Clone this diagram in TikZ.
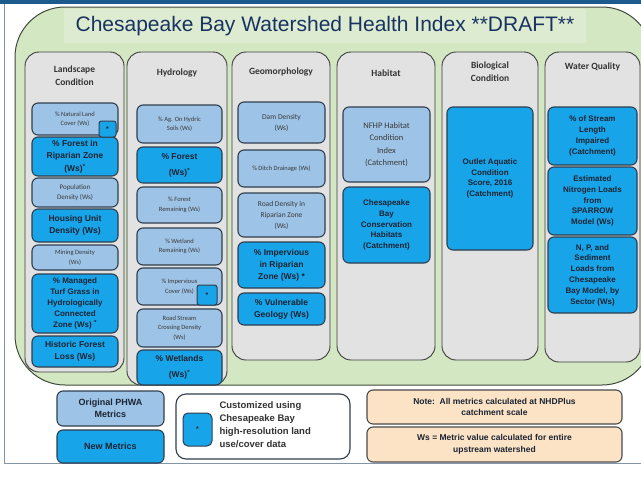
\documentclass[tikz,border=0pt]{standalone}
\usepackage{fontspec}
\setmainfont{Liberation Sans}
\newfontfamily\calfont{Carlito}
\usepackage{tikz}
\usepackage{xcolor}
\definecolor{topbar}{HTML}{1D5A8E}
\definecolor{framegray}{HTML}{8494A8}
\definecolor{greenbg}{HTML}{D4E7C3}
\definecolor{greenline}{HTML}{3E4A3A}
\definecolor{titlebg}{HTML}{DDECD0}
\definecolor{titleblue}{HTML}{1A3262}
\definecolor{colbg}{HTML}{E2E2E2}
\definecolor{colline}{HTML}{3C3C3C}
\definecolor{coltext}{HTML}{333333}
\definecolor{origbg}{HTML}{9DC3E6}
\definecolor{newbg}{HTML}{18A4E8}
\definecolor{boxline}{HTML}{2F3E4E}
\definecolor{smalltext}{HTML}{3A3A3A}
\definecolor{boldtext}{HTML}{1B2433}
\definecolor{notebg}{HTML}{FCE3C5}
\definecolor{noteline}{HTML}{4A4A4A}

\begin{document}
\begin{tikzpicture}[x=1pt,y=-1pt,
  col/.style={draw=colline, fill=colbg, line width=0.9pt, rounded corners=14pt},
  coltitle/.style={font=\calfont\bfseries\fontsize{9.5}{13}\selectfont, text=coltext, align=center},
  orig/.style={draw=boxline, fill=origbg, line width=1.1pt, rounded corners=6pt, inner sep=1pt,
    align=center, text=smalltext},
  newm/.style={draw=boxline, fill=newbg, line width=1.1pt, rounded corners=6pt, inner sep=1pt,
    align=center, text=boldtext},
  starbox/.style={draw=boxline, fill=newbg, line width=1pt, rounded corners=2.5pt, inner sep=0pt,
    text=boldtext, font=\bfseries\fontsize{7}{7}\selectfont},
  notebox/.style={draw=noteline, fill=notebg, line width=1.1pt, rounded corners=6pt, inner sep=1pt,
    align=center, text=boldtext, font=\bfseries\fontsize{8.5}{11.5}\selectfont}]
  \useasboundingbox[fill=white] (0,0) rectangle (641,491);
  % frame of the slide
  \fill[topbar] (0,0) rectangle (641,4);
  \draw[framegray, line width=1pt] (4.5,4) -- (4.5,463) -- (641,463);
  % green panel and title
  \node[draw=greenline, fill=greenbg, line width=1pt, rounded corners=50pt,
    minimum width=637, minimum height=378] (panel) at (333.5,196) {};
  \node[fill=titlebg, minimum width=522, minimum height=34, text=titleblue,
    font=\fontsize{21}{24}\selectfont] (title) at (325,26)
    {Chesapeake Bay Watershed Health Index **DRAFT**};
  % the six columns
  \foreach \n/\xa/\ya/\xb/\yb/\ty/\t in {
    colLand/25/52/124/372/76/{Landscape\\Condition},
    colHyd/127/52/227/385/73/{Hydrology},
    colGeo/232/52/330/360/72/{Geomorphology},
    colHab/337/52/435/360/73/{Habitat},
    colBio/442/52/538/360/72/{Biological\\Condition},
    colWq/545/52/640/362/67/{Water Quality}}{
    \node[col, minimum width=\xb-\xa, minimum height=\yb-\ya] (\n) at ({(\xa+\xb)/2},{(\ya+\yb)/2}) {};
    \node[coltitle] (\n-t) at ({(\xa+\xb)/2},\ty) {\t};}
  % original PHWA metrics (size/leading of the text last but one)
  \foreach \n/\xa/\ya/\xb/\yb/\fs/\fl/\t in {
    lcNat/32/103/118/135/6.5/9.5/{\% Natural Land\\Cover (Ws)},
    lcPop/32/178/118/207/7/10/{Population\\Density (Ws)},
    lcMin/32/245/118/270/6.5/9.5/{Mining Density\\(Ws)},
    hyAg/137/105/222/143/6.5/9.5/{\% Ag. On Hydric\\Soils (Ws)},
    hyFor/137/187/222/223/6.5/9.5/{\% Forest\\Remaining (Ws)},
    hyWet/137/228/222/265/6.5/9.5/{\% Wetland\\Remaining (Ws)},
    hyImp/137/268/222/305/6.5/9.5/{\% Impervious\\Cover (Ws)},
    hyRoad/137/309/222/347/6.5/9.5/{Road Stream\\Crossing Density\\(Ws)},
    geDam/238/102/325/143/7.5/11/{Dam Density\\(Ws)},
    geDit/238/150/325/187/6.5/9.5/{\% Ditch Drainage (Ws)},
    geRoad/238/193/325/237/7.5/11/{Road Density in\\Riparian Zone\\(Ws)},
    haNfhp/343/107/430/182/8.5/12.5/{NFHP Habitat\\Condition\\Index\\(Catchment)}}
    \node[orig, font=\calfont\fontsize{\fs}{\fl}\selectfont, minimum width=\xb-\xa, minimum height=\yb-\ya]
      (\n) at ({(\xa+\xb)/2},{(\ya+\yb)/2}) {\t};
  % new metrics
  \foreach \n/\xa/\ya/\xb/\yb/\fs/\fl/\t in {
    lcRip/32/137/118/176/8.5/12.5/{\% Forest in\\Riparian Zone\\(Ws)\textsuperscript{*}},
    lcHou/32/209/118/242/8.5/12/{Housing Unit\\Density (Ws)},
    lcTurf/32/274/118/333/8/10.8/{\% Managed\\Turf Grass in\\Hydrologically\\Connected\\Zone (Ws) \textsuperscript{*}},
    lcHist/32/336/118/367/8.5/12/{Historic Forest\\Loss (Ws)},
    hyFst/137/147/222/183/8.5/16/{\% Forest\\(Ws)\textsuperscript{*}},
    hyWtl/137/350/222/385/8.5/16/{\% Wetlands\\(Ws)\textsuperscript{*}},
    geImp/238/242/325/288/8.5/12/{\% Impervious\\in Riparian\\Zone (Ws) *},
    geVul/238/293/325/325/8.5/12/{\% Vulnerable\\Geology (Ws)},
    haCons/343/187/430/263/8/10.8/{Chesapeake\\Bay\\Conservation\\Habitats\\(Catchment)},
    bcOut/447/107/533/250/8/10.8/{Outlet Aquatic\\Condition\\Score, 2016\\(Catchment)},
    wqStr/548/107/637/165/8/10.8/{\% of Stream\\Length\\Impaired\\(Catchment)},
    wqNit/548/167/637/235/8/10.8/{Estimated\\Nitrogen Loads\\from\\SPARROW\\Model (Ws)},
    wqSed/548/237/637/313/8/10.8/{N, P, and\\Sediment\\Loads from\\Chesapeake\\Bay Model, by\\Sector (Ws)}}
    \node[newm, font=\bfseries\fontsize{\fs}{\fl}\selectfont, minimum width=\xb-\xa, minimum height=\yb-\ya]
      (\n) at ({(\xa+\xb)/2},{(\ya+\yb)/2}) {\t};
  % hi-res land cover markers
  \node[starbox, minimum width=17, minimum height=16] (lcNatStar) at (107.5,129) {*};
  \node[starbox, minimum width=20, minimum height=20] (hyImpStar) at (207,295) {*};
  % legend
  \node[orig, minimum width=107, minimum height=35, text=boldtext,
    font=\bfseries\fontsize{9}{12}\selectfont] (lgOrig) at (110.5,408.5) {Original PHWA\\Metrics};
  \node[newm, minimum width=107, minimum height=33, font=\bfseries\fontsize{9}{12}\selectfont]
    (lgNew) at (110.5,446.5) {New Metrics};
  \node[draw=boxline, fill=white, line width=1.1pt, rounded corners=10pt,
    minimum width=174, minimum height=65] (lgCust) at (263,426.5) {};
  \node[starbox, minimum width=29, minimum height=33, rounded corners=5pt] (lgStar) at (197.5,429.5) {*};
  \node[anchor=west, align=left, text=coltext, font=\bfseries\fontsize{9.5}{13}\selectfont]
    (lgCustT) at (216,425) {Customized using\\Chesapeake Bay\\high-resolution land\\use/cover data};
  \node[notebox, minimum width=255, minimum height=34] (noteA) at (494.5,407)
    {Note:\ \ All metrics calculated at NHDPlus\\catchment scale};
  \node[notebox, minimum width=255, minimum height=35] (noteB) at (494.5,444.5)
    {Ws = Metric value calculated for entire\\upstream watershed};
\end{tikzpicture}
\end{document}
